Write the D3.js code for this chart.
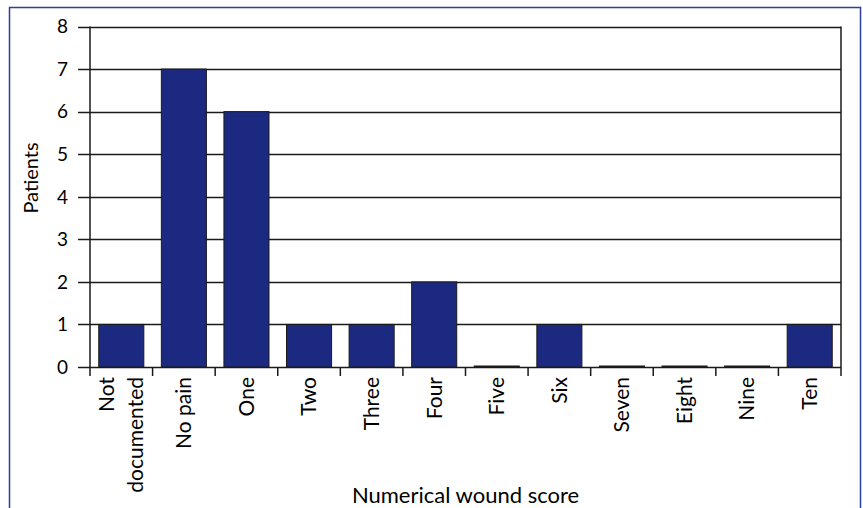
<!DOCTYPE html>
<html>
<head>
<meta charset="utf-8">
<script src="https://cdn.jsdelivr.net/npm/d3@7"></script>
<style>
  html, body { margin: 0; padding: 0; background: #fff; }
  svg { display: block; }
  text { font-family: "Lato", "Open Sans", sans-serif; fill: #000; }
</style>
</head>
<body>
<svg id="chart" width="863" height="508"></svg>
<script>
// Wound pain score distribution
const categories = ["Not documented", "No pain", "One", "Two", "Three", "Four",
                    "Five", "Six", "Seven", "Eight", "Nine", "Ten"];
const patients = [1, 7, 6, 1, 1, 2, 0, 1, 0, 0, 0, 1];
const yTicks = [0, 1, 2, 3, 4, 5, 6, 7, 8];
const yLabel = "Patients";
const xLabel = "Numerical wound score";

const svg = d3.select("#chart");
const plot = { left: 90, right: 841, top: 26.5, bottom: 367 };

// outer frame (open at the bottom)
svg.append("path")
  .attr("d", `M9.5,508 V7.5 H860.5 V508`)
  .attr("fill", "none")
  .attr("stroke", "#2e3f99")
  .attr("stroke-width", 1.5);

const x = d3.scaleBand()
  .domain(categories)
  .range([plot.left, plot.right])
  .paddingInner(0.28)
  .paddingOuter(0.14);

const y = d3.scaleLinear()
  .domain([0, 8])
  .range([plot.bottom, plot.top]);

// gridlines with short ticks to the left of the axis
svg.append("g").selectAll("line")
  .data(yTicks)
  .join("line")
  .attr("x1", plot.left - 12)
  .attr("x2", plot.right)
  .attr("y1", d => Math.round(y(d)) + 0.5)
  .attr("y2", d => Math.round(y(d)) + 0.5)
  .attr("stroke", "#1a1a1a")
  .attr("stroke-width", 1.3);

// y tick labels
svg.append("g").selectAll("text")
  .data(yTicks)
  .join("text")
  .attr("x", plot.left - 22)
  .attr("y", d => y(d))
  .attr("dy", "0.36em")
  .attr("text-anchor", "end")
  .attr("font-size", 19)
  .text(d => d);

// left axis and right border of the plot area
[plot.left, plot.right].forEach(px => {
  svg.append("line")
    .attr("x1", px).attr("x2", px)
    .attr("y1", plot.top).attr("y2", plot.bottom)
    .attr("stroke", "#1a1a1a")
    .attr("stroke-width", 1.5);
});

// category boundary ticks below the baseline
const step = x.step();
const bounds = d3.range(categories.length + 1).map(i => plot.left + i * step);
svg.append("g").selectAll("line")
  .data(bounds)
  .join("line")
  .attr("x1", d => d).attr("x2", d => d)
  .attr("y1", plot.bottom)
  .attr("y2", plot.bottom + 9)
  .attr("stroke", "#1a1a1a")
  .attr("stroke-width", 1.5);

// bars
svg.append("g").selectAll("rect")
  .data(categories.map((c, i) => ({ c, v: patients[i] })))
  .join("rect")
  .attr("x", d => x(d.c))
  .attr("width", x.bandwidth())
  .attr("y", d => y(d.v) - (d.v === 0 ? 1 : 0))
  .attr("height", d => Math.max(1, y(0) - y(d.v)))
  .attr("fill", "#1b2a80")
  .attr("stroke", "#1a1a1a")
  .attr("stroke-width", 1);

// rotated category labels
const labels = svg.append("g").selectAll("g")
  .data(categories)
  .join("g")
  .attr("transform", d => `translate(${x(d) + x.bandwidth() / 2},${plot.bottom + 10}) rotate(-90)`);

labels.each(function (d) {
  const lines = d.length > 10 ? d.split(" ") : [d];
  const g = d3.select(this);
  const gap = 29;
  lines.forEach((line, i) => {
    g.append("text")
      .attr("x", 0)
      .attr("y", (i - (lines.length - 1) / 2) * gap)
      .attr("dy", "0.35em")
      .attr("text-anchor", "end")
      .attr("font-size", 21)
      .text(line);
  });
});

// axis titles
svg.append("text")
  .attr("transform", `translate(38,178) rotate(-90)`)
  .attr("text-anchor", "middle")
  .attr("font-size", 20)
  .text(yLabel);

svg.append("text")
  .attr("x", (plot.left + plot.right) / 2)
  .attr("y", 503)
  .attr("text-anchor", "middle")
  .attr("font-size", 22)
  .text(xLabel);
</script>
</body>
</html>
